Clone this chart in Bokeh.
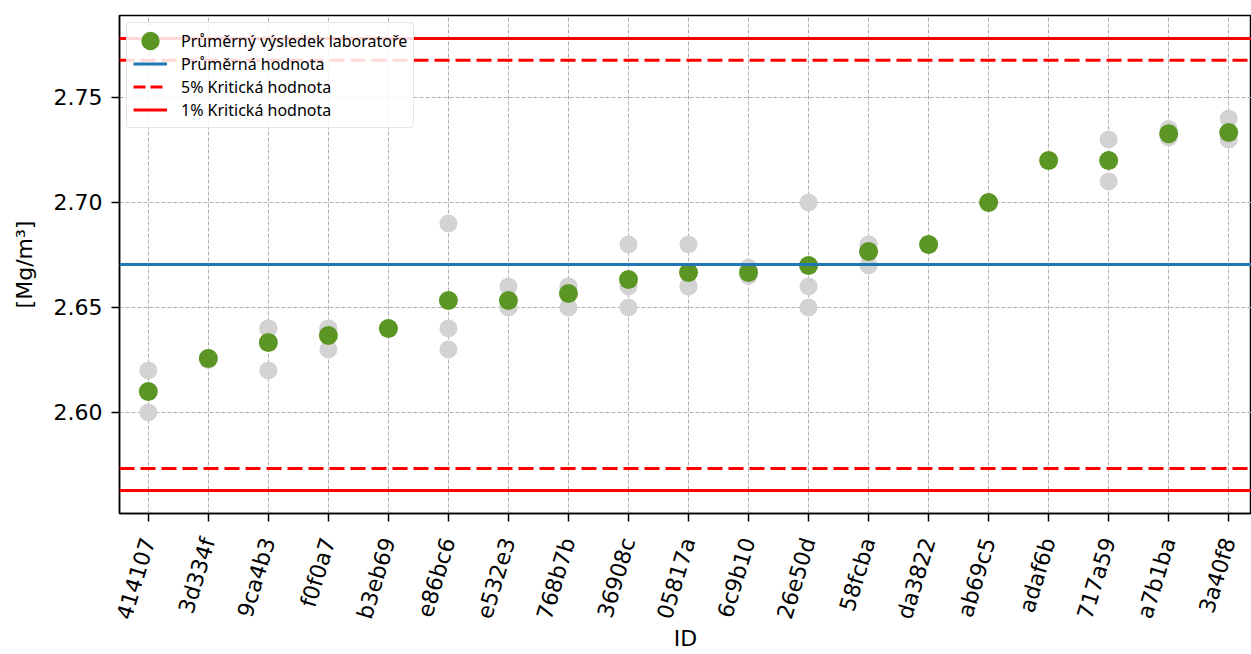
from bokeh.plotting import figure
from bokeh.models import FixedTicker, NumeralTickFormatter, Span, Legend, LegendItem, Range1d
from bokeh.embed import file_html
from bokeh.resources import INLINE
import math

ids = ["414107", "3d334f", "9ca4b3", "f0f0a7", "b3eb69", "e86bc6", "e532e3", "768b7b",
       "36908c", "05817a", "6c9b10", "26e50d", "58fcba", "da3822", "ab69c5", "adaf6b",
       "717a59", "a7b1ba", "3a40f8"]
results = [
    [2.62, 2.61, 2.60],
    [2.625, 2.626, 2.626],
    [2.64, 2.64, 2.62],
    [2.64, 2.64, 2.63],
    [2.64, 2.64, 2.64],
    [2.69, 2.64, 2.63],
    [2.66, 2.65, 2.65],
    [2.66, 2.66, 2.65],
    [2.68, 2.66, 2.65],
    [2.68, 2.66, 2.66],
    [2.669, 2.665, 2.666],
    [2.70, 2.66, 2.65],
    [2.68, 2.68, 2.67],
    [2.68, 2.68, 2.68],
    [2.70, 2.70, 2.70],
    [2.72, 2.72, 2.72],
    [2.73, 2.71, 2.72],
    [2.735, 2.731, 2.732],
    [2.74, 2.73, 2.73],
]
lab_means = [sum(r) / len(r) for r in results]
overall_mean = 2.6705
crit5 = [2.5733, 2.7677]
crit1 = [2.5629, 2.7781]
y_ticks = [2.60, 2.65, 2.70, 2.75]

FONT = "DejaVu Sans"
GREEN = "#5b9624"

p = figure(width=1251, height=654, output_backend="svg", toolbar_location=None,
           x_range=Range1d(-0.48, 18.38), y_range=Range1d(2.5519, 2.789),
           min_border_left=119, min_border_right=0, min_border_top=15, min_border_bottom=140)

# gray individual results
gx, gy = [], []
for i, r in enumerate(results):
    for v in r:
        gx.append(i)
        gy.append(v)
p.scatter(gx, gy, size=18, color="#d3d3d3", line_color=None)

p.add_layout(Span(location=overall_mean, dimension="width", line_color="#1f77b4", line_width=3))
for v in crit5:
    p.add_layout(Span(location=v, dimension="width", line_color="red", line_width=3, line_dash="15 6"))
for v in crit1:
    p.add_layout(Span(location=v, dimension="width", line_color="red", line_width=3))

p.scatter(list(range(len(ids))), lab_means, size=19, color=GREEN, line_color=None)

# legend-only proxies (outside visible range)
l_g = p.ellipse(x=[-10], y=[2.67], width=18, height=18, width_units="screen",
                height_units="screen", fill_color=GREEN, line_color=None)
l_blue = p.line([-10, -9], [2.67, 2.67], line_color="#1f77b4", line_width=3)
l_d = p.line([-10, -9], [2.67, 2.67], line_color="red", line_width=3, line_dash="12 5")
l_s = p.line([-10, -9], [2.67, 2.67], line_color="red", line_width=3)

legend = Legend(items=[
    LegendItem(label="Průměrný výsledek laboratoře", renderers=[l_g]),
    LegendItem(label="Průměrná hodnota", renderers=[l_blue]),
    LegendItem(label="5% Kritická hodnota", renderers=[l_d]),
    LegendItem(label="1% Kritická hodnota", renderers=[l_s]),
], location="top_left")
legend.label_text_font = "Noto Sans"
legend.label_text_font_size = "16px"
legend.label_text_color = "black"
legend.glyph_width = 34
legend.glyph_height = 23
legend.label_height = 22
legend.spacing = 0
legend.padding = 6
legend.margin = 7
legend.label_standoff = 14
legend.border_line_color = "#cccccc"
legend.border_line_width = 1.5
legend.border_radius = 4
legend.background_fill_alpha = 0.85
p.add_layout(legend)

p.outline_line_color = "black"
p.outline_line_width = 1.5

p.xaxis.ticker = FixedTicker(ticks=list(range(len(ids))))
p.xaxis.major_label_overrides = {i: s for i, s in enumerate(ids)}
p.xaxis.major_label_orientation = math.radians(73)
p.xaxis.axis_label = "ID"

p.yaxis.ticker = FixedTicker(ticks=y_ticks)
p.yaxis.formatter = NumeralTickFormatter(format="0.00")
p.yaxis.axis_label = "[Mg/m³]"

for ax in (p.xaxis[0], p.yaxis[0]):
    ax.major_label_text_font = FONT
    ax.major_label_text_font_size = "22px"
    ax.major_label_text_color = "black"
    ax.axis_label_text_font = FONT
    ax.axis_label_text_font_size = "22px"
    ax.axis_label_text_font_style = "normal"
    ax.axis_label_text_color = "black"
    ax.major_tick_line_color = "black"
    ax.major_tick_line_width = 1.5
    ax.major_tick_out = 8
    ax.major_tick_in = 0
    ax.minor_tick_line_color = None
    ax.axis_line_color = "black"
    ax.axis_line_width = 1.5
p.yaxis.major_label_standoff = 9
p.xaxis.major_label_standoff = 17
p.yaxis.axis_label_standoff = 14
p.xaxis.axis_label_standoff = -3

p.xgrid.grid_line_color = "#b0b0b0"
p.ygrid.grid_line_color = "#b0b0b0"
p.xgrid.grid_line_dash = "4 2"
p.ygrid.grid_line_dash = "4 2"
p.xgrid.grid_line_width = 1
p.ygrid.grid_line_width = 1

open("out.html", "w").write(file_html(p, INLINE))
